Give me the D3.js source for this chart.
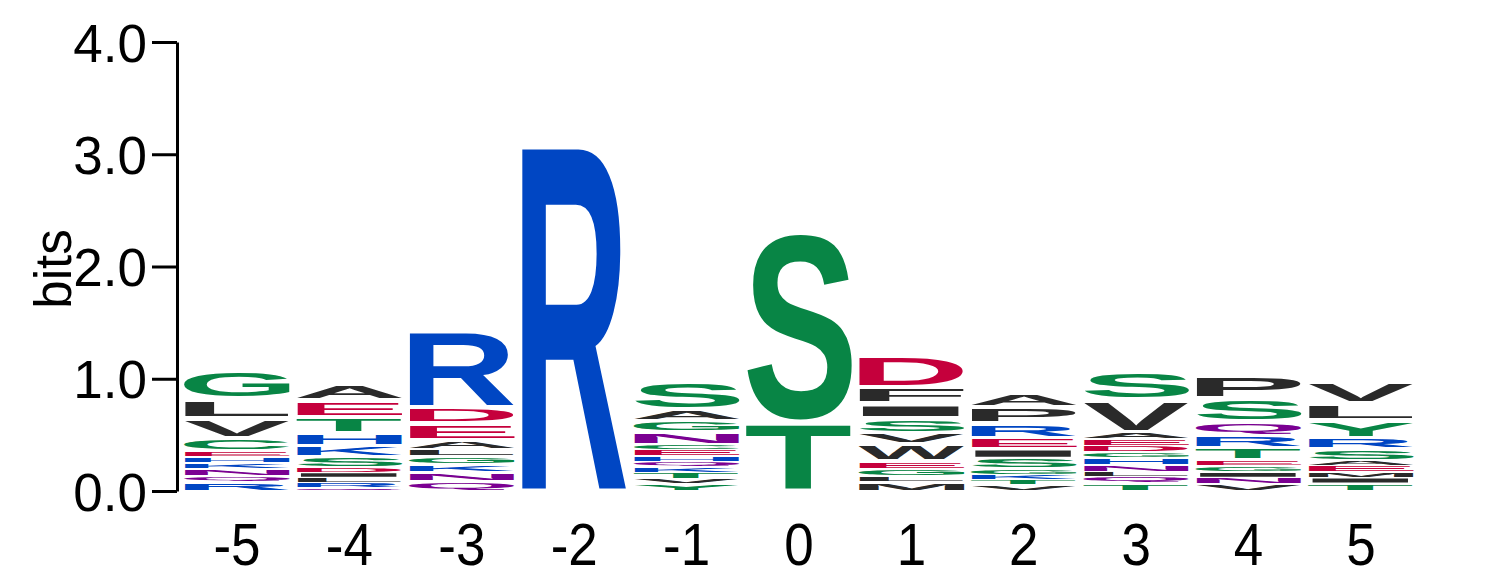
<!DOCTYPE html>
<html lang="en">
<head>
<meta charset="UTF-8">
<title>Sequence logo</title>
<script src="https://cdnjs.cloudflare.com/ajax/libs/d3/7.8.5/d3.min.js"></script>
<style>
    body { margin: 0; background: #fff; }
    svg { display: block; }
</style>
</head>
<body>
<div id="logo"></div>
<script>
// positions along the motif
const positions = ["-5", "-4", "-3", "-2", "-1", "0", "1", "2", "3", "4", "5"];

// letters of each stack, listed top to bottom
const stackLetters = [
    ["G", "L", "V", "C", "E", "H", "K", "N", "Q", "R"],
    ["A", "E", "T", "H", "K", "S", "D", "I", "L", "R", "Q"],
    ["R", "D", "E", "A", "L", "G", "K", "N", "Q"],
    ["R"],
    ["S", "A", "G", "N", "C", "E", "H", "Q", "K", "T", "V", "Y"],
    ["S", "T"],
    ["D", "F", "I", "S", "V", "W", "E", "G", "L", "M"],
    ["A", "P", "R", "E", "I", "S", "G", "K", "T", "V"],
    ["S", "V", "A", "E", "D", "G", "H", "N", "L", "Q", "T"],
    ["P", "S", "Q", "R", "T", "E", "G", "I", "N", "V"],
    ["V", "L", "Y", "R", "S", "A", "E", "M", "I", "T"]
];

// height of each letter in bits, same order
const stackBits = [
    [0.258, 0.169, 0.178, 0.116, 0.053, 0.049, 0.053, 0.067, 0.049, 0.085],
    [0.143, 0.151, 0.151, 0.107, 0.098, 0.098, 0.040, 0.045, 0.049, 0.045, 0.026],
    [0.677, 0.143, 0.151, 0.080, 0.062, 0.071, 0.071, 0.080, 0.089],
    [3.073],
    [0.249, 0.098, 0.098, 0.116, 0.040, 0.058, 0.049, 0.049, 0.049, 0.058, 0.040, 0.067],
    [1.693, 0.615],
    [0.285, 0.151, 0.125, 0.134, 0.089, 0.160, 0.071, 0.062, 0.053, 0.080],
    [0.134, 0.143, 0.134, 0.098, 0.080, 0.098, 0.053, 0.040, 0.049, 0.053],
    [0.258, 0.285, 0.058, 0.062, 0.058, 0.053, 0.062, 0.058, 0.049, 0.053, 0.071],
    [0.205, 0.205, 0.125, 0.107, 0.107, 0.053, 0.053, 0.049, 0.058, 0.062],
    [0.196, 0.151, 0.160, 0.098, 0.107, 0.040, 0.062, 0.045, 0.053, 0.067]
];

const yTicks = [0, 1, 2, 3, 4];

const width = 1486, height = 583;

const green = "#088545", blue = "#0046c3", red = "#c5003c",
      purple = "#7b0092", black = "#2a2a2a";
const colorOf = {
    G: green, S: green, T: green, Y: green, C: green,
    N: purple, Q: purple,
    K: blue, R: blue, H: blue,
    D: red, E: red
};

const svg = d3.select("#logo").append("svg")
    .attr("width", width)
    .attr("height", height);

const x = d3.scaleBand()
    .domain(positions)
    .range([184, 1414])
    .paddingInner(0.057)
    .paddingOuter(0);

const y = d3.scaleLinear()
    .domain([0, 4])
    .range([491, 42]);

// ink bounds of a glyph, so each letter fills its box exactly
const ctx = document.createElement("canvas").getContext("2d");
ctx.font = "bold 100px 'Liberation Sans'";
function ink(ch) {
    const m = ctx.measureText(ch);
    return {
        l: m.actualBoundingBoxLeft,
        r: m.actualBoundingBoxRight,
        a: m.actualBoundingBoxAscent,
        d: m.actualBoundingBoxDescent
    };
}

const glyphs = svg.append("g");
positions.forEach((pos, i) => {
    const letters = stackLetters[i];
    const bits = stackBits[i];
    const bw = x.bandwidth();
    let cum = 0;
    for (let k = letters.length - 1; k >= 0; k--) {
        const y0 = y(cum), y1 = y(cum + bits[k]);
        cum += bits[k];
        const slot = y0 - y1;
        const gap = Math.min(5, slot * 0.3);
        const gh = slot - gap;
        const m = ink(letters[k]);
        const sx = bw / (m.l + m.r);
        const sy = gh / (m.a + m.d);
        glyphs.append("text")
            .attr("font-family", "'Liberation Sans', Arial, sans-serif")
            .attr("font-weight", "bold")
            .attr("font-size", 100)
            .attr("fill", colorOf[letters[k]] || black)
            .attr("transform", `translate(${x(pos)},${y1 + gap / 2}) scale(${sx},${sy}) translate(${m.l},${m.a})`)
            .text(letters[k]);
    }
});

// y axis
const yAxis = svg.append("g")
    .attr("transform", "translate(177,0)")
    .call(d3.axisLeft(y)
        .tickValues(yTicks)
        .tickFormat(d3.format(".1f"))
        .tickSize(25)
        .tickSizeOuter(0)
        .tickPadding(5));
yAxis.select(".domain").attr("stroke", "#000").attr("stroke-width", 3);
yAxis.selectAll(".tick line").attr("stroke", "#000").attr("stroke-width", 3);
yAxis.selectAll(".tick text")
    .attr("fill", "#000")
    .attr("font-family", "'Liberation Sans', Arial, sans-serif")
    .attr("font-size", 53)
    .attr("dy", "0.36em");

// x labels
const xAxis = svg.append("g")
    .attr("transform", "translate(0,565)")
    .call(d3.axisBottom(x).tickSize(0));
xAxis.select(".domain").remove();
xAxis.selectAll(".tick text")
    .attr("fill", "#000")
    .attr("font-family", "'Liberation Sans', Arial, sans-serif")
    .attr("font-size", 53)
    .attr("y", 0)
    .attr("dy", 0)
    .attr("transform", "scale(1,1.1)");

svg.append("text")
    .attr("transform", "translate(71,269) rotate(-90)")
    .attr("text-anchor", "middle")
    .attr("font-family", "'Liberation Sans', Arial, sans-serif")
    .attr("font-size", 51)
    .attr("fill", "#000")
    .text("bits");
</script>
</body>
</html>
